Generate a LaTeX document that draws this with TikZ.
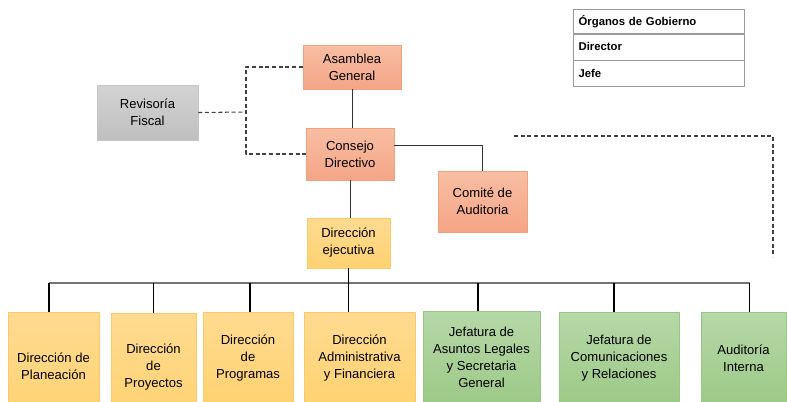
\documentclass[tikz,border=0pt]{standalone}
\usepackage{fontspec}
\setmainfont{Liberation Sans}
\definecolor{orgtop}{HTML}{F8BEA3}
\definecolor{orgbot}{HTML}{F4A586}
\definecolor{orgline}{HTML}{F0A27C}
\definecolor{ylwtop}{HTML}{FFDB91}
\definecolor{ylwbot}{HTML}{FFD271}
\definecolor{ylwline}{HTML}{F9CA6A}
\definecolor{grntop}{HTML}{B6D8A8}
\definecolor{grnbot}{HTML}{9DC987}
\definecolor{grnline}{HTML}{98C783}
\definecolor{grytop}{HTML}{D3D3D3}
\definecolor{grybot}{HTML}{BFBFBF}
\definecolor{gryline}{HTML}{C6C6C6}
\begin{document}
\begin{tikzpicture}[x=.75pt, y=-.75pt, line join=round, font=\fontsize{9.8pt}{12.8pt}\selectfont]
		\tikzset{boxsize/.style 2 args={minimum width=#1*.75pt, minimum height=#2*.75pt, inner sep=1pt, align=center},
			gobierno/.style={draw=orgline, top color=orgtop, bottom color=orgbot},
			direccion/.style={draw=ylwline, top color=ylwtop, bottom color=ylwbot},
			jefatura/.style={draw=grnline, top color=grntop, bottom color=grnbot},
			control/.style={draw=gryline, top color=grytop, bottom color=grybot},
			legend row/.style={draw=black!40, anchor=north west, minimum width=170*.75pt, text width=160*.75pt, align=left, inner xsep=4pt, font=\fontsize{8.5pt}{10pt}\selectfont\bfseries},
			link/.style={draw=black!80, line width=.7pt},
			drop/.style={draw=black, line width=1.1pt},
			dashlink/.style={draw=black!75, line width=.8pt, dashed, dash pattern=on 3pt off 2pt}}
		\useasboundingbox (0,0) rectangle (787,401);
		% top of the chart
		\node[gobierno, boxsize={98}{44}] (asamblea) at (352,67) {Asamblea\\General};
		\node[control, boxsize={101}{55}] (fiscal) at (147.5,112.5) {Revisoría\\Fiscal};
		\node[gobierno, boxsize={88}{52}] (consejo) at (350,154) {Consejo\\Directivo};
		\node[gobierno, boxsize={89}{61}] (comite) at (482.5,201.5) {Comité de\\Auditoria};
		\node[direccion, boxsize={83}{50}] (ejecutiva) at (348.5,243) {Dirección\\ejecutiva};
		% legend
		\node[legend row, minimum height=24*.75pt] (leg1) at (573,9) {Órganos de Gobierno};
		\node[legend row, minimum height=26*.75pt] (leg2) at (leg1.south west) {Director};
		\node[legend row, minimum height=26*.75pt] (leg3) at (leg2.south west) {Jefe};
		% second level
		\node[direccion, boxsize={91}{108}, anchor=north] (planeacion) at (53.5,312) {Dirección de\\Planeación};
		\node[direccion, boxsize={85}{108}, anchor=north] (proyectos) at (153.5,313) {Dirección\\de\\Proyectos};
		\node[direccion, boxsize={90}{92}, anchor=north] (programas) at (248,312) {Dirección\\de\\Programas};
		\node[direccion, boxsize={111}{92}, anchor=north] (administrativa) at (359.5,312) {Dirección\\Administrativa\\y Financiera};
		\node[jefatura, boxsize={117}{92}, anchor=north] (legales) at (481.5,311) {Jefatura de\\Asuntos Legales\\y Secretaria\\General};
		\node[jefatura, boxsize={120}{92}, anchor=north] (comunicaciones) at (619,312) {Jefatura de\\Comunicaciones\\y Relaciones};
		\node[jefatura, boxsize={85}{92}, anchor=north] (interna) at (743.5,312) {Auditoría\\Interna};
		% connectors
		\coordinate (fork) at (246,112);
		\coordinate (bus) at (0,283);
		\coordinate (dashstart) at (514,136);
		\coordinate (dashend) at (773,257);
		\path[dashlink] (asamblea.west) -| (fork) |- (consejo.west);
		\path[dashlink] (fiscal.east) -- (fork);
		\path[dashlink] (dashstart) -| (dashend);
		\path[link] (asamblea.south) -- (asamblea.south |- consejo.north);
		\path[link] ([yshift=6.75pt]consejo.east) -| (comite.north);
		\path[link] (consejo.south) -- (consejo.south |- ejecutiva.north);
		\path[draw=black!55, line width=.8pt] ([xshift=-3.4pt]planeacion.north |- bus) -- ([xshift=4.5pt]interna.north |- bus);
		\path[drop] (ejecutiva.south) -- (ejecutiva.south |- administrativa.north);
		\path[drop] ([xshift=-3.4pt]planeacion.north |- bus) -- ([xshift=-3.4pt]planeacion.north);
		\path[drop] (proyectos.north |- bus) -- (proyectos.north);
		\path[drop] ([xshift=1.5pt]programas.north |- bus) -- ([xshift=1.5pt]programas.north);
		\path[drop] ([xshift=-2.6pt]legales.north |- bus) -- ([xshift=-2.6pt]legales.north);
		\path[drop] ([xshift=-3.8pt]comunicaciones.north |- bus) -- ([xshift=-3.8pt]comunicaciones.north);
		\path[drop] ([xshift=4.5pt]interna.north |- bus) -- ([xshift=4.5pt]interna.north);
\end{tikzpicture}
\end{document}
